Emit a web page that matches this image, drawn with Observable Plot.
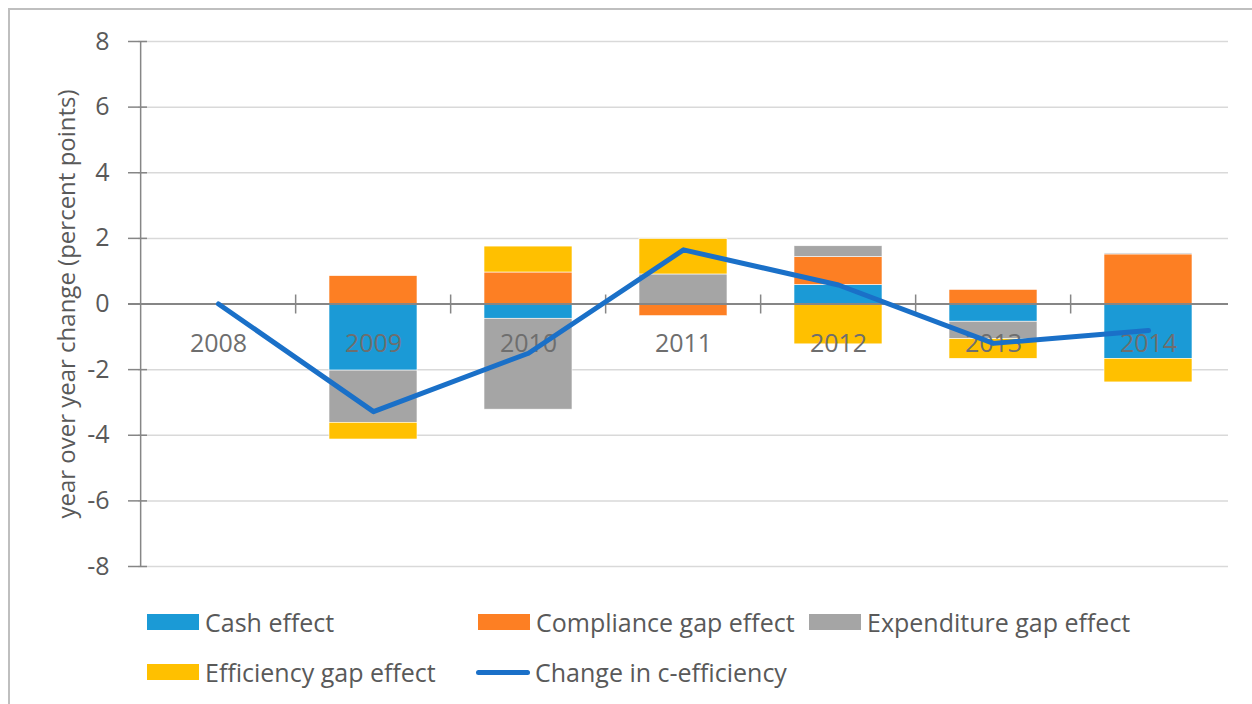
<!DOCTYPE html>
<html>
<head>
<meta charset="utf-8">
<script src="https://cdn.jsdelivr.net/npm/d3@7"></script>
<script src="https://cdn.jsdelivr.net/npm/@observablehq/plot@0.6"></script>
<style>
  html, body { margin: 0; padding: 0; background: #fff; }
  body { width: 1252px; height: 704px; position: relative; overflow: hidden; font-family: "Open Sans", sans-serif; }
  #border { position: absolute; left: 8px; top: 8px; width: 1260px; height: 720px; border: 2px solid #bfbfbf; box-sizing: border-box; }
  #chart { position: absolute; left: 0; top: 0; }
  .legend-item { position: absolute; display: flex; align-items: center; font-size: 25px; color: #595959; white-space: nowrap; }
  .sw { width: 52px; height: 16px; margin-right: 6px; }
  .ln { width: 54px; height: 5px; border-radius: 3px; margin-right: 5px; }
</style>
</head>
<body>
<div id="border"></div>
<div id="chart"></div>
<div id="legend"></div>
<script>
const years = ["2008", "2009", "2010", "2011", "2012", "2013", "2014"];
const series = ["Cash effect", "Compliance gap effect", "Expenditure gap effect", "Efficiency gap effect"];
const colors = ["#1b9ad6", "#fd7f23", "#a5a5a5", "#ffc000"];
const cash        = [0, -2.03, -0.45, 0.00, 0.58, -0.54, -1.67];
const compliance  = [0,  0.85,  0.96, -0.37, 0.85, 0.43, 1.51];
const expenditure = [0, -1.59, -2.77, 0.90, 0.33, -0.53, 0.03];
const efficiency  = [0, -0.51,  0.79, 1.08, -1.23, -0.60, -0.72];
const change      = [0, -3.28, -1.50, 1.65, 0.58, -1.20, -0.81];
const lineName = "Change in c-efficiency";
const lineColor = "#1a70c8";
const yTicks = [-8, -6, -4, -2, 0, 2, 4, 6, 8];
const yLabel = "year over year change (percent points)";

const seriesValues = [cash, compliance, expenditure, efficiency];
const bars = [];
series.forEach((s, i) => years.forEach((y, j) => bars.push({year: y, series: s, value: seriesValues[i][j]})));
const lineData = years.map((y, j) => ({year: y, value: change[j]}));

const W = 1252, H = 590, mL = 138, mR = 24, mT = 41, mB = 24;
const step = (W - mL - mR) / years.length;
const gray = "#595959";

const chart = Plot.plot({
  width: W, height: H,
  marginLeft: mL, marginRight: mR, marginTop: mT, marginBottom: mB,
  style: {fontFamily: "Open Sans, sans-serif", background: "transparent"},
  x: {domain: years, paddingInner: 0.43, paddingOuter: 0.215, axis: null},
  y: {domain: [-8, 8], ticks: yTicks, axis: null},
  color: {domain: series, range: colors},
  marks: [
    Plot.gridY(yTicks, {stroke: "#d9d9d9", strokeOpacity: 1, strokeWidth: 1.5}),
    Plot.axisY(yTicks, {tickSize: 19, dx: 9, text: null, label: null, stroke: "#868686", strokeWidth: 1.5}),
    Plot.axisY(yTicks, {tickSize: 0, tickPadding: 29, fontSize: 25, fill: gray, label: null, tickFormat: d => String(d)}),
    Plot.barY(bars, {x: "year", y: "value", fill: "series", stroke: "#fff", strokeWidth: 0.6, order: series}),
    Plot.ruleX(years.slice(0, 1), {dx: -step / 2, stroke: "#868686", strokeWidth: 1.5}),
    Plot.ruleY([0], {stroke: "#868686", strokeWidth: 2, insetLeft: -10}),
    Plot.ruleX(years.slice(1), {y1: 0, y2: 0, insetTop: -9, insetBottom: -10, dx: -step / 2, stroke: "#868686", strokeWidth: 1.5}),
    Plot.text(years, {x: d => d, y: 0, dy: 40, text: d => d, fontSize: 25, fill: "#6e6e6e"}),
    Plot.line(lineData, {x: "year", y: "value", stroke: lineColor, strokeWidth: 5, strokeLinecap: "round", strokeLinejoin: "round"}),
    Plot.text([yLabel], {frameAnchor: "left", dx: -71, rotate: -90, textAnchor: "middle", text: d => d, fontSize: 24, fill: gray})
  ]
});
document.getElementById("chart").appendChild(chart);

const legend = document.getElementById("legend");
const items = [
  {label: series[0], color: colors[0], type: "sw", x: 147, y: 622},
  {label: series[1], color: colors[1], type: "sw", x: 478, y: 622},
  {label: series[2], color: colors[2], type: "sw", x: 809, y: 622},
  {label: series[3], color: colors[3], type: "sw", x: 147, y: 672},
  {label: lineName, color: lineColor, type: "ln", x: 476, y: 672}
];
items.forEach(it => {
  const d = document.createElement("div");
  d.className = "legend-item";
  d.style.left = it.x + "px";
  d.style.top = (it.y - 16) + "px";
  d.style.height = "32px";
  const s = document.createElement("div");
  s.className = it.type;
  s.style.background = it.color;
  const t = document.createElement("span");
  t.textContent = it.label;
  d.appendChild(s); d.appendChild(t);
  legend.appendChild(d);
});
</script>
</body>
</html>
